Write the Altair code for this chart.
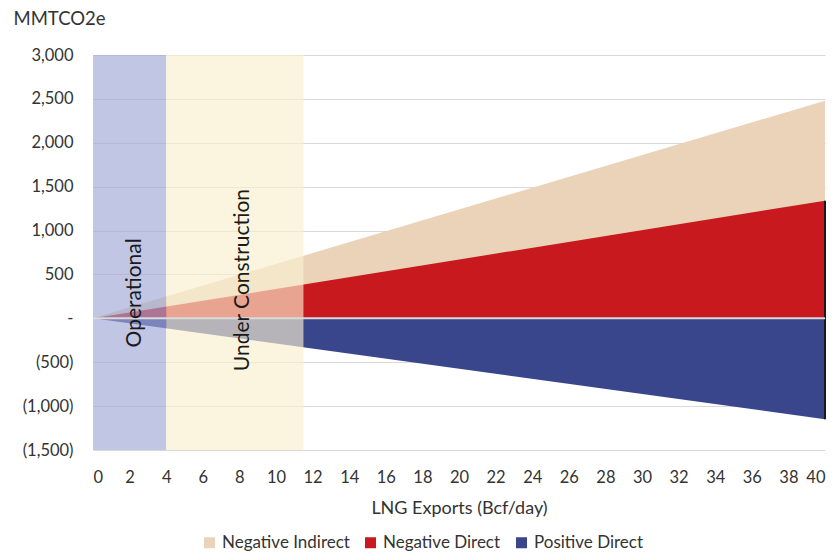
import altair as alt
import pandas as pd

# Series (values at x = 0 and x = 40 Bcf/day)
series = ["Negative Indirect", "Negative Direct", "Positive Direct"]
export_x = [0, 40]
neg_indirect = [0, 2480]
neg_direct = [0, 1340]
pos_direct = [0, -1150]
colors = ["#ebd3b9", "#c8191e", "#3a468c"]

# Phase bands
phases = ["Operational", "Under Construction"]
phase_start = [0, 4]
phase_end = [4, 11.5]
phase_colors = ["#9ea7d5", "#f9f0cf"]
label_x = [2.3, 8.2]
label_y = [290, 436]

x_ticks = list(range(0, 42, 2))
y_ticks = list(range(-1500, 3500, 500))

rows = []
for name, vals in zip(series, [neg_indirect, neg_direct, pos_direct]):
    for xv, yv in zip(export_x, vals):
        rows.append({"series": name, "x": xv, "y": yv})
df = pd.DataFrame(rows)

band_df = pd.DataFrame({"phase": phases, "x0": phase_start, "x1": phase_end,
                        "lx": label_x, "ly": label_y, "col": phase_colors})

FONT = "Lato"

xscale = alt.Scale(domain=[0, 40], nice=False)
yscale = alt.Scale(domain=[-1500, 3000], nice=False)
cscale = alt.Scale(domain=series, range=colors)

x_axis = alt.Axis(values=x_ticks, title="LNG Exports (Bcf/day)", grid=False, domain=False,
                  ticks=False, labelPadding=19, labelFontSize=16.5, titleFontSize=18,
                  titleFontWeight="normal", titlePadding=14, labelColor="#333333",
                  titleColor="#333333", labelFont=FONT, titleFont=FONT)
y_axis = alt.Axis(values=y_ticks, title="MMTCO2e", grid=True, gridColor="#d9d9d9",
                  domain=False, ticks=False, labelPadding=20, labelFontSize=16.5,
                  labelExpr="datum.value == 0 ? '-' : (datum.value < 0 ? '(' + format(-datum.value, ',') + ')' : format(datum.value, ','))",
                  titleAngle=0, titleAlign="left", titleBaseline="middle", titleX=-80,
                  titleY=-37, titleFontSize=18.5, titleFontWeight="normal",
                  labelColor="#333333", titleColor="#333333", labelFont=FONT, titleFont=FONT)

base = alt.Chart(df)

def area_layer(name):
    return base.transform_filter(alt.datum.series == name).mark_area(opacity=1).encode(
        x=alt.X("x:Q", scale=xscale, axis=x_axis),
        y=alt.Y("y:Q", scale=yscale, axis=y_axis),
        color=alt.Color("series:N", scale=cscale,
                        legend=alt.Legend(title=None, orient="none", direction="horizontal",
                                          legendX=108, legendY=479, symbolType="square",
                                          symbolSize=121, labelFontSize=17, labelFont=FONT,
                                          labelColor="#333333", columnPadding=12,
                                          labelOffset=4, symbolStrokeWidth=0)),
    )

a1 = area_layer("Negative Indirect")
a2 = area_layer("Negative Direct")
a3 = area_layer("Positive Direct")

edges = base.transform_filter(alt.datum.x == 40).transform_filter(
    alt.datum.series != "Negative Indirect").mark_rule(color="#1a1a1a", strokeWidth=2).encode(
    x=alt.X("x:Q", scale=xscale, axis=x_axis),
    y=alt.Y("y:Q", scale=yscale, axis=y_axis),
    y2=alt.datum(0),
)

zero_rule = alt.Chart(pd.DataFrame({"z": [0]})).mark_rule(color="#d9d9d9", strokeWidth=2).encode(
    y=alt.Y("z:Q", scale=yscale, axis=y_axis)
)

bands = alt.Chart(band_df).mark_rect(opacity=0.65).encode(
    x=alt.X("x0:Q", scale=xscale, axis=x_axis),
    x2="x1:Q",
    y=alt.datum(3000),
    y2=alt.datum(-1500),
    color=alt.Color("col:N", scale=None, legend=None),
)

labels = alt.Chart(band_df).mark_text(angle=270, fontSize=21, font=FONT, color="#1a1a1a",
                                      align="center", baseline="middle").encode(
    x=alt.X("lx:Q", scale=xscale, axis=x_axis),
    y=alt.Y("ly:Q", scale=yscale, axis=y_axis),
    text="phase:N",
)

chart = alt.layer(a1, a2, a3, edges, bands, zero_rule, labels).properties(
    width=732, height=395,
    autosize=alt.AutoSizeParams(type="none"),
    padding={"left": 85, "top": 47, "right": 2, "bottom": 101},
).configure_view(stroke=None)

chart.save("out.html", embed_options={"renderer": "svg", "actions": False})
